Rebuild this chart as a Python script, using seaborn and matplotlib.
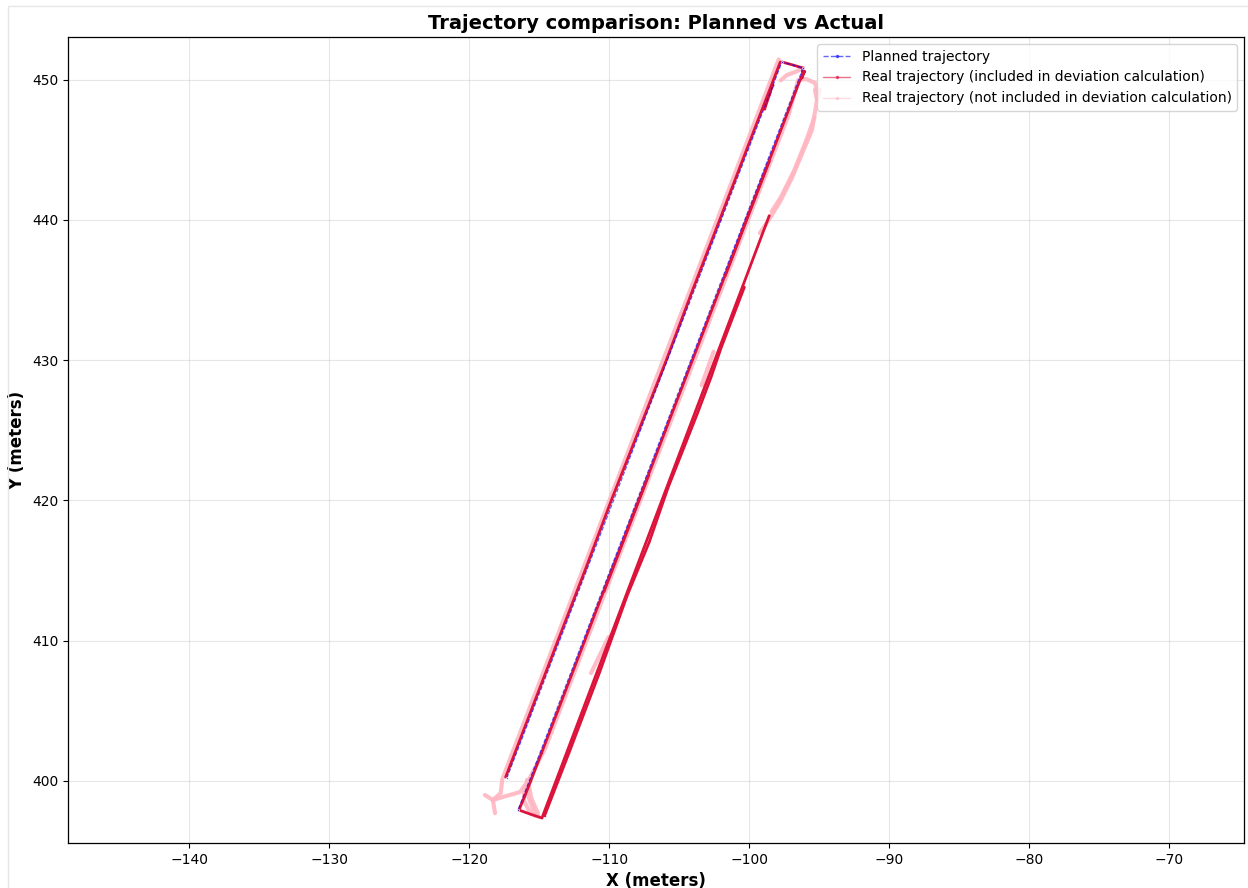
import numpy as np
import pandas as pd
import matplotlib
matplotlib.use("Agg")
import matplotlib.pyplot as plt
from matplotlib.lines import Line2D
from matplotlib.patches import Rectangle
import seaborn as sns

nan = np.nan

# planned waypoints
planned_x = [-117.31, -97.66, -96.16, -116.52]
planned_y = [400.19, 451.26, 450.83, 397.91]

# real trajectory, points used for the deviation (nan = gap between passes)
incl_x = [-97.78, -98.46, -98.82, -100.19, -102.11, -104.04, -105.92, -107.88, -109.85, -111.73,
          -113.66, -115.58, -116.73, -117.40, nan,
          -98.30, -98.85, -98.50, -98.90, nan,
          -97.66, -96.90, -96.16, -96.24, -96.05, -96.36, -97.13, -98.28, -100.21, -102.13,
          -104.06, -105.98, -107.90, -109.83, -111.75, -113.67, -114.83, -115.60, -116.06, -116.45,
          -115.65, -114.81, -113.80, -111.91, -110.02, -108.13, -106.24, -104.35, -102.46, -100.57,
          -98.57, nan,
          -114.62, -112.87, -110.70, -108.72, -107.15, -105.80, -103.70, -102.72, -102.00, -100.35, nan,
          -98.56, -100.03, -101.72, nan,
          -107.18, -108.95, -110.37]
incl_y = [451.26, 449.48, 448.55, 445.00, 440.00, 435.00, 430.00, 425.00, 420.00, 415.00,
          410.00, 405.00, 402.00, 400.26, nan,
          449.60, 448.40, 449.10, 447.90, nan,
          451.26, 451.05, 450.83, 450.12, 450.60, 450.00, 448.00, 445.00, 440.00, 435.00,
          430.00, 425.00, 420.00, 415.00, 410.00, 405.00, 402.00, 400.00, 398.84, 397.91,
          397.62, 397.34, 400.00, 405.00, 410.00, 415.00, 420.00, 425.00, 430.00, 435.00,
          440.30, nan,
          397.50, 402.00, 407.70, 413.20, 417.00, 420.90, 426.20, 428.80, 430.90, 435.20, nan,
          444.20, 440.40, 436.00, nan,
          421.80, 417.20, 413.50]

# real trajectory, points left out of the deviation
excl_x = [-97.89, -98.10, -98.60, -99.25, -100.37, -101.29, -102.29, -103.37, -104.48, -105.72,
          -106.91, -108.60, -110.06, -111.60, -113.10, -114.60, -115.72, -116.49, -117.22, -117.64,
          -117.75, -118.31, -118.16, nan,
          -118.88, -118.31, -117.40, -116.38, -115.75, -114.58, -113.50, -112.00, -110.50, -109.46,
          -107.93, -106.43, -105.08, -103.69, -102.31, -101.19, -100.12, -99.15, -98.19, -97.19,
          -96.50, -95.95, -95.31, -95.09, nan,
          -95.09, -95.16, -95.52, -96.20, -96.95, -97.80, -98.60, -99.24, nan,
          -95.35, -95.95, -96.80, -97.75, -98.40, nan,
          -95.31, -95.16, -94.95, nan,
          -96.16, -96.70, -97.31, -97.75, nan,
          -115.88, -115.80, -115.45, -115.05, nan,
          -116.05, -116.10, -115.75, -115.30, nan,
          -115.80, -115.55, -115.10, nan,
          -111.30, -110.05, nan,
          -103.40, -102.55]
excl_y = [451.45, 450.90, 449.60, 447.90, 445.00, 442.60, 440.00, 437.20, 434.30, 431.10,
          428.00, 423.60, 419.80, 415.80, 411.90, 408.00, 405.10, 403.10, 401.20, 400.10,
          399.12, 398.62, 397.69, nan,
          398.98, 398.62, 398.90, 399.19, 400.05, 402.30, 405.10, 409.00, 412.90, 415.60,
          419.60, 423.50, 427.00, 430.60, 434.20, 437.10, 439.90, 442.40, 444.90, 447.50,
          449.98, 450.05, 449.77, 449.06, nan,
          449.06, 448.55, 446.41, 444.80, 443.00, 441.30, 440.00, 439.06, nan,
          447.30, 445.60, 443.50, 441.60, 440.60, nan,
          449.27, 448.55, 449.27, nan,
          450.83, 450.55, 450.33, 449.95, nan,
          400.05, 398.90, 398.00, 397.45, nan,
          399.60, 398.60, 397.90, 397.50, nan,
          399.90, 398.70, 397.70, nan,
          407.68, 410.25, nan,
          428.20, 430.60]


def to_frame(xs, ys):
    df = pd.DataFrame({'x': xs, 'y': ys})
    df['seg'] = df['x'].isna().cumsum()
    return df.dropna()


plan_df = pd.DataFrame({'x': planned_x, 'y': planned_y, 'seg': 0})
incl_df = to_frame(incl_x, incl_y)
excl_df = to_frame(excl_x, excl_y)

sns.set_style("ticks", {"text.color": "black", "axes.labelcolor": "black",
                        "xtick.color": "black", "ytick.color": "black",
                        "axes.edgecolor": "black"})

fig = plt.figure(figsize=(12.48, 8.88), dpi=100)
ax = fig.add_axes([0.0545, 0.0507, 0.9423, 0.9076])

sns.lineplot(data=excl_df, x='x', y='y', units='seg', estimator=None, sort=False,
             color='#ffb6c1', lw=3.0, alpha=0.9, ax=ax, legend=False)
sns.lineplot(data=incl_df, x='x', y='y', units='seg', estimator=None, sort=False,
             color='crimson', lw=2.0, marker='.', markersize=2, markeredgewidth=0,
             ax=ax, legend=False)
sns.lineplot(data=plan_df, x='x', y='y', units='seg', estimator=None, sort=False,
             color='blue', lw=0.8, ls='--', dashes=(3, 2), alpha=0.65, marker='.', markersize=3,
             ax=ax, legend=False)

ax.set_xlim(-148.66, -64.66)
ax.set_ylim(395.56, 453.04)
ax.grid(True, color='#b0b0b0', alpha=0.3, lw=0.8)
for s in ax.spines.values():
    s.set_color('black')
    s.set_linewidth(0.9)
ax.tick_params(labelsize=10, colors='black')

ax.set_title('Trajectory comparison: Planned vs Actual', fontsize=14, fontweight='bold')
ax.set_xlabel('X (meters)', fontsize=12, fontweight='bold')
ax.set_ylabel('Y (meters)', fontsize=12, fontweight='bold')

handles = [
    Line2D([], [], color='blue', ls='--', lw=1, marker='.', ms=3, alpha=0.6),
    Line2D([], [], color='crimson', lw=1, marker='.', ms=3, alpha=0.6),
    Line2D([], [], color='#ffb6c1', lw=1, marker='.', ms=3, alpha=0.5),
]
labels = ['Planned trajectory',
          'Real trajectory (included in deviation calculation)',
          'Real trajectory (not included in deviation calculation)']
ax.legend(handles, labels, loc='upper right', fontsize=10, frameon=True)

# faint outer frame seen in the reference
fig.add_artist(Rectangle((0.0064, -0.01), 1.0, 1.0038, transform=fig.transFigure,
                         fill=False, ec='#e6e6e6', lw=1))

fig.savefig('out.png', dpi=100)
